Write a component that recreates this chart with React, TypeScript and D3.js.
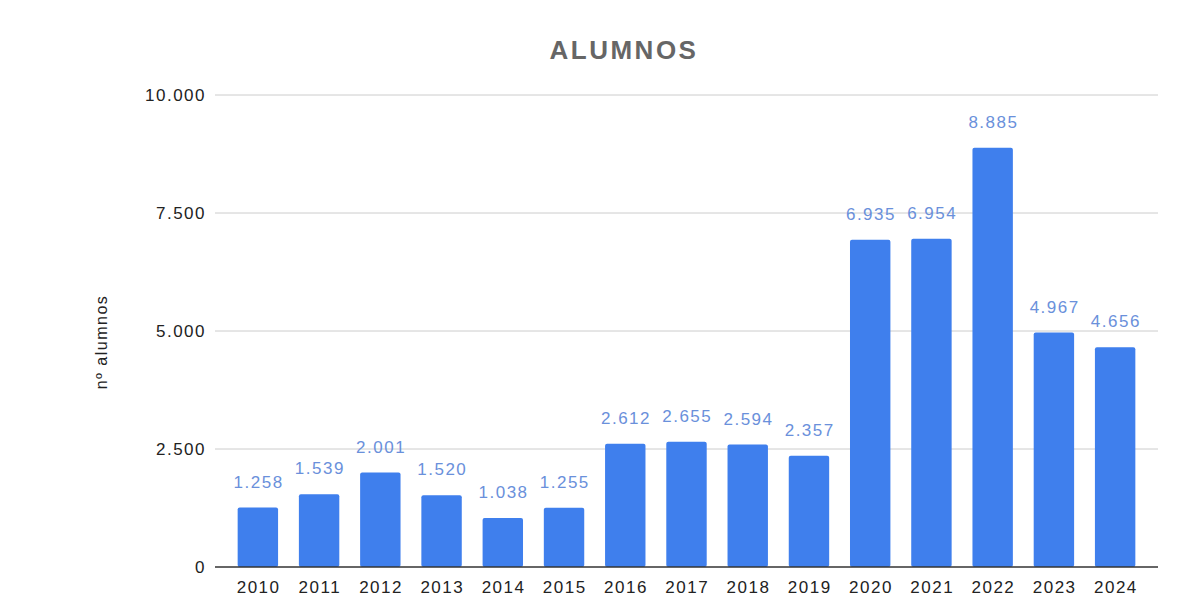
import * as d3 from "d3";
import { useEffect, useRef } from "react";

const years = ["2010", "2011", "2012", "2013", "2014", "2015", "2016", "2017", "2018", "2019", "2020", "2021", "2022", "2023", "2024"];
const alumnos = [1258, 1539, 2001, 1520, 1038, 1255, 2612, 2655, 2594, 2357, 6935, 6954, 8885, 4967, 4656];
const yTicks = [0, 2500, 5000, 7500, 10000];

const W = 1202;
const H = 599;
const margin = { top: 95, right: 44, left: 215 };
const baseY = 567;

export default function App() {
  const ref = useRef(null);

  useEffect(() => {
    draw();
  });

  function draw() {
    const svg = d3.select(ref.current);
    // clean the slate
    svg.selectAll("*").remove();

    const width = W - margin.left - margin.right;
    const plotH = baseY - margin.top;
    const font = "'Liberation Sans', Arial, sans-serif";
    const ls = 1.5;

    const fmt = (v: number) => d3.format(",")(v).replace(/,/g, ".");

    const x = d3.scaleBand().domain(years).range([0, width]).paddingInner(0.34).paddingOuter(0.37);
    const y = d3.scaleLinear().domain([0, 10000]).range([plotH, 0]);

    svg
      .append("text")
      .attr("x", 624)
      .attr("y", 59)
      .attr("text-anchor", "middle")
      .attr("font-family", font)
      .attr("font-size", 26)
      .attr("font-weight", 700)
      .attr("letter-spacing", 2.5)
      .attr("fill", "#666666")
      .text("ALUMNOS");

    svg
      .append("text")
      .attr("transform", "translate(107,342) rotate(-90)")
      .attr("text-anchor", "middle")
      .attr("font-family", font)
      .attr("font-size", 16)
      .attr("letter-spacing", ls)
      .attr("fill", "#222")
      .text("nº alumnos");

    const plot = svg.append("g").attr("transform", "translate(" + margin.left + "," + margin.top + ")");

    // gridlines
    plot
      .append("g")
      .selectAll("line")
      .data(yTicks.filter((t) => t > 0))
      .enter()
      .append("line")
      .attr("x1", 0)
      .attr("x2", width)
      .attr("y1", (d) => y(d))
      .attr("y2", (d) => y(d))
      .attr("stroke", "#cccccc")
      .attr("stroke-width", 1);

    // y tick labels
    plot
      .append("g")
      .selectAll("text")
      .data(yTicks)
      .enter()
      .append("text")
      .attr("x", -9)
      .attr("y", (d) => y(d) + 6)
      .attr("text-anchor", "end")
      .attr("font-family", font)
      .attr("font-size", 17)
      .attr("letter-spacing", ls)
      .attr("fill", "#222")
      .text((d) => fmt(d));

    // bars
    plot
      .append("g")
      .selectAll("rect")
      .data(alumnos)
      .enter()
      .append("rect")
      .attr("x", (d, i) => x(years[i])!)
      .attr("y", (d) => y(d))
      .attr("width", x.bandwidth())
      .attr("height", (d) => plotH - y(d))
      .attr("rx", 2)
      .attr("fill", "#3f7fed");

    // value labels
    plot
      .append("g")
      .selectAll("text")
      .data(alumnos)
      .enter()
      .append("text")
      .attr("x", (d, i) => x(years[i])! + x.bandwidth() / 2 + ls / 2)
      .attr("y", (d) => y(d) - 20)
      .attr("text-anchor", "middle")
      .attr("font-family", font)
      .attr("font-size", 17)
      .attr("letter-spacing", ls)
      .attr("fill", "#6a90db")
      .text((d) => fmt(d));

    // baseline
    plot
      .append("line")
      .attr("x1", 0)
      .attr("x2", width)
      .attr("y1", plotH)
      .attr("y2", plotH)
      .attr("stroke", "#333")
      .attr("stroke-width", 1.5);

    // x tick labels
    plot
      .append("g")
      .selectAll("text")
      .data(years)
      .enter()
      .append("text")
      .attr("x", (d) => x(d)! + x.bandwidth() / 2 + ls / 2)
      .attr("y", plotH + 26)
      .attr("text-anchor", "middle")
      .attr("font-family", font)
      .attr("font-size", 17)
      .attr("letter-spacing", ls)
      .attr("fill", "#222")
      .text((d) => d);
  }

  return (
    <svg
      ref={ref}
      width={W}
      height={H}
      style={{ position: "absolute", left: 0, top: 0, background: "#fff" }}
    ></svg>
  );
}
